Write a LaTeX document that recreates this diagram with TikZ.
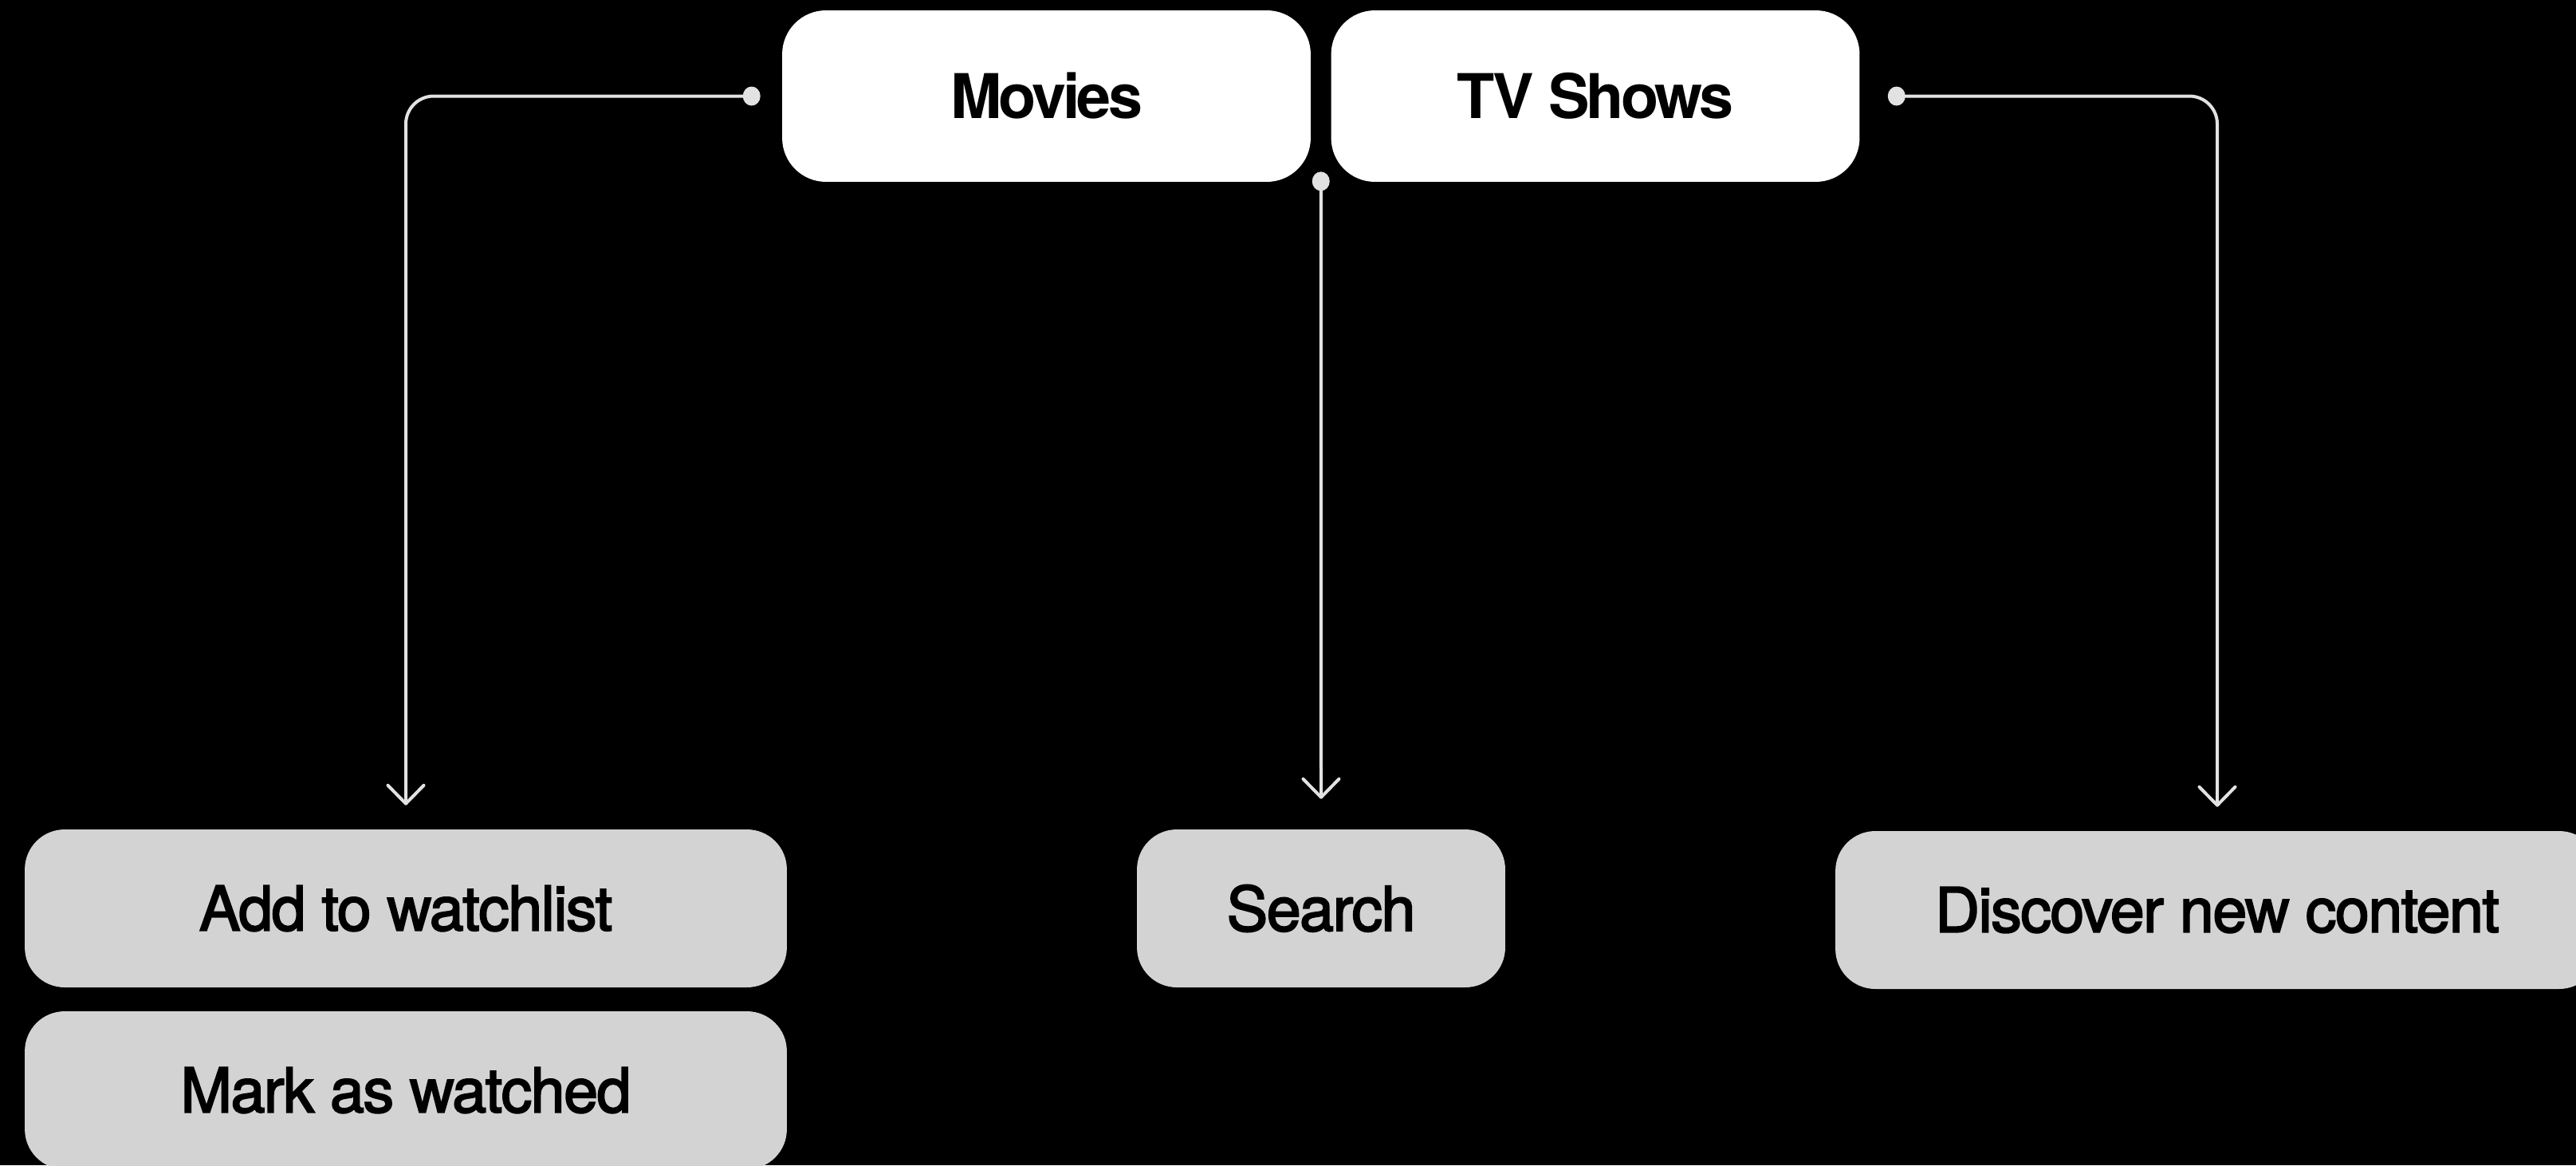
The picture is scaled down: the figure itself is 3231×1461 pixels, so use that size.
\documentclass[tikz,border=0pt]{standalone}
\usepackage{fontspec}
\setmainfont{TeX Gyre Heros}
\newfontfamily\medfont{TeX Gyre Heros}[FakeBold=2.5,LetterSpace=-2]
\newfontfamily\topfont{TeX Gyre Heros Bold}[LetterSpace=-5]
\usetikzlibrary{arrows.meta,calc}
\definecolor{linec}{HTML}{E2E2E2}
\definecolor{boxgray}{HTML}{D3D3D3}
\tikzset{
  topbox/.style={fill=white, rounded corners=1.1cm, minimum width=13.26cm, minimum height=4.3cm, inner sep=0pt,
    font=\fontsize{44}{50}\selectfont\topfont, text=black},
  botbox/.style={fill=boxgray, rounded corners=1.0cm, minimum height=3.96cm, inner sep=0pt,
    font=\fontsize{44}{50}\selectfont\medfont, text=black},
  conn/.style={draw=linec, line width=0.08cm, rounded corners=0.7cm, line cap=round,
    -{Straight Barb[length=0.46cm,width=0.9cm,line width=0.08cm,round]}},
  dotc/.style={fill=linec, draw=none}
}
\begin{document}
\begin{tikzpicture}[x=0.02cm,y=-0.02cm]
\useasboundingbox (0,0) rectangle (3231,1461);
\fill[black] (0,0) rectangle (3231,1461);
\node[topbox] (mov) at (1312.5,120.5) {Movies};
\node[topbox] (tv) at (2001,120.5) {TV Shows};
\node[botbox, minimum width=19.12cm] (add) at (509,1139) {Add to watchlist};
\node[botbox, minimum width=19.12cm] (mark) at (509,1367) {Mark as watched};
\node[botbox, minimum width=9.24cm] (search) at (1657,1139) {Search};
\node[botbox, minimum width=19.16cm] (disc) at (2781,1141) {Discover new content};
\coordinate (d1) at ($(mov.west)+(-38,0)$);
\coordinate (d2) at ($(tv.east)+(46,0)$);
\coordinate (d3) at ($(mov.south east)!0.5!(tv.south west)+(0,-1)$);
\draw[conn, shorten >=0.6cm] (d1) -| (add.north);
\draw[conn, shorten >=0.6cm] (d2) -| (disc.north);
\draw[conn, shorten >=0.76cm] (d3) -- (search.north);
\fill[dotc] (d1) ellipse [x radius=11, y radius=12];
\fill[dotc] (d2) ellipse [x radius=11, y radius=12];
\fill[dotc] (d3) ellipse [x radius=11, y radius=12];
\end{tikzpicture}
\end{document}
